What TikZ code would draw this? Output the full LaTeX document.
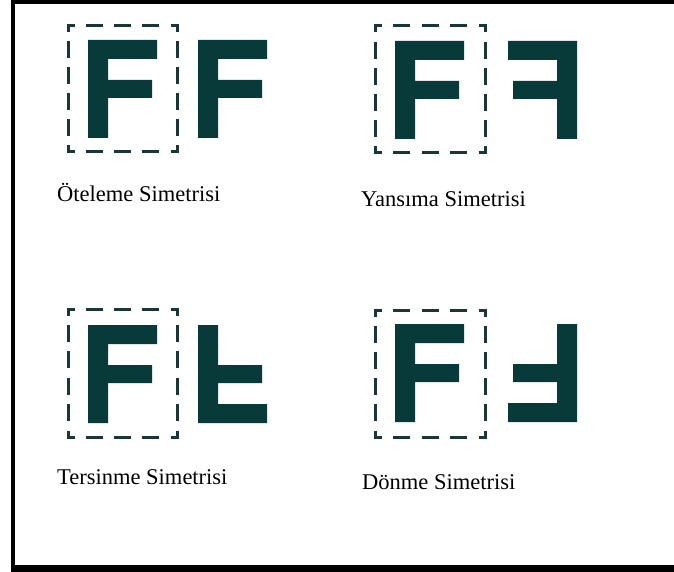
\documentclass[tikz,border=0pt]{standalone}
\usepackage{fontspec}
\setmainfont{Liberation Serif}
\definecolor{fcol}{HTML}{083A3A}
\definecolor{bcol}{HTML}{1A3636}
\tikzset{
  fshape/.style={fill=fcol, draw=none},
  boxline/.style={draw=bcol, line width=3pt, line cap=butt},
  lbl/.style={anchor=base west, inner sep=0pt, font=\fontsize{22.5}{26}\selectfont, text=black}
}
% F letter, origin = top-left of stem, y grows downward
\newcommand\Fpath{(0,0) -- (69,0) -- (69,19) -- (20,19) -- (20,40) -- (64,40) -- (64,58) -- (20,58) -- (20,98) -- (0,98) -- cycle}
% dashed side: from, to, length, number of full dashes
\newcommand\dline[4]{%
  \pgfmathsetmacro\gp{(#3-16-#4*17)/(#4+1)}%
  \draw[boxline, dash pattern=on 17pt off \gp pt, dash phase=9pt] #1 -- #2;}
\newcommand\dbox[4]{% x1 y1 x2 y2
  \pgfmathsetmacro\W{#3-#1+3}\pgfmathsetmacro\H{#4-#2+3}%
  \dline{(#1-1.5,#2)}{(#3+1.5,#2)}{\W}{3}%
  \dline{(#1-1.5,#4)}{(#3+1.5,#4)}{\W}{3}%
  \dline{(#1,#2-1.5)}{(#1,#4+1.5)}{\H}{4}%
  \dline{(#3,#2-1.5)}{(#3,#4+1.5)}{\H}{4}}
\begin{document}
\begin{tikzpicture}[x=1pt, y=-1pt]
\useasboundingbox (0,0) rectangle (674,572);
% frame
\fill[black] (11,0) rectangle (15,572);
\fill[black] (11,0) rectangle (674,4);
\fill[black] (11,565) rectangle (674,572);

% panel 1: translation
\dbox{68}{26}{177}{152}
\fill[fshape, shift={(88,40)}] \Fpath;
\fill[fshape, shift={(198,40)}] \Fpath;
\node[lbl] (t1) at (57,201) {Öteleme Simetrisi};

% panel 2: reflection
\dbox{375}{26}{485}{153}
\fill[fshape, shift={(395,41)}] \Fpath;
\fill[fshape, shift={(577,41)}, xscale=-1] \Fpath;
\node[lbl] (t2) at (361,206) {Yansıma Simetrisi};

% panel 3: inversion
\dbox{68}{309}{177}{437}
\fill[fshape, shift={(88,325)}] \Fpath;
\fill[fshape, shift={(198,423)}, yscale=-1] \Fpath;
\node[lbl] (t3) at (57,484) {Tersinme Simetrisi};

% panel 4: rotation
\dbox{375}{310}{485}{437}
\fill[fshape, shift={(395,324)}] \Fpath;
\fill[fshape, shift={(577,422)}, rotate=180] \Fpath;
\node[lbl] (t4) at (362,489) {Dönme Simetrisi};
\end{tikzpicture}
\end{document}
